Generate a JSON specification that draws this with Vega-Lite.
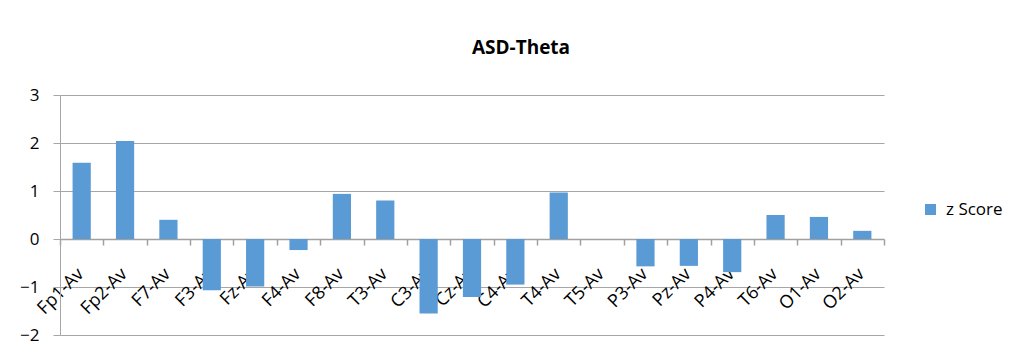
{
  "$schema": "https://vega.github.io/schema/vega-lite/v6.json",
  "autosize": {"type": "none"},
  "width": 824,
  "height": 240,
  "padding": {"left": 60, "top": 95, "right": 140, "bottom": 25},
  "background": "white",
  "title": {
    "text": "ASD-Theta",
    "font": "Open Sans",
    "fontSize": 19,
    "fontWeight": "bold",
    "color": "#000000",
    "anchor": "middle",
    "frame": "group",
    "dx": 49,
    "offset": 28
  },
  "data": {
    "values": [
      {"channel": "Fp1-Av", "z": 1.59},
      {"channel": "Fp2-Av", "z": 2.04},
      {"channel": "F7-Av", "z": 0.40},
      {"channel": "F3-Av", "z": -1.07},
      {"channel": "Fz-Av", "z": -0.99},
      {"channel": "F4-Av", "z": -0.23},
      {"channel": "F8-Av", "z": 0.94},
      {"channel": "T3-Av", "z": 0.80},
      {"channel": "C3-Av", "z": -1.55},
      {"channel": "Cz-Av", "z": -1.21},
      {"channel": "C4-Av", "z": -0.95},
      {"channel": "T4-Av", "z": 0.97},
      {"channel": "T5-Av", "z": 0},
      {"channel": "P3-Av", "z": -0.57},
      {"channel": "Pz-Av", "z": -0.56},
      {"channel": "P4-Av", "z": -0.69},
      {"channel": "T6-Av", "z": 0.50},
      {"channel": "O1-Av", "z": 0.46},
      {"channel": "O2-Av", "z": 0.17}
    ]
  },
  "mark": {"type": "bar", "width": {"band": 0.42}},
  "encoding": {
    "x": {
      "field": "channel",
      "type": "nominal",
      "sort": null,
      "scale": {"paddingInner": 0, "paddingOuter": 0},
      "axis": {
        "title": null,
        "offset": -96,
        "domain": true,
        "domainColor": "#a0a0a0",
        "domainWidth": 1.5,
        "ticks": true,
        "tickColor": "#a0a0a0",
        "tickWidth": 1.5,
        "tickSize": 6,
        "tickBand": "extent",
        "labelAngle": -45,
        "labelAlign": "right",
        "labelBaseline": "middle",
        "labelPadding": 26,
        "labelOffset": -1,
        "labelFont": "Open Sans",
        "labelFontSize": 18,
        "labelColor": "#000000",
        "zindex": 0
      }
    },
    "y": {
      "field": "z",
      "type": "quantitative",
      "scale": {"domain": [-2, 3], "nice": false, "zero": false},
      "axis": {
        "title": null,
        "values": [-2, -1, 0, 1, 2, 3],
        "grid": true,
        "gridColor": "#a6a6a6",
        "domainColor": "#a6a6a6",
        "tickColor": "#a6a6a6",
        "tickSize": 7,
        "labelPadding": 14,
        "labelFont": "Open Sans",
        "labelFontSize": 17,
        "labelColor": "#000000",
        "zindex": 0
      }
    },
    "color": {
      "datum": "z Score",
      "scale": {"range": ["#5B9BD5"]},
      "legend": {
        "title": null,
        "orient": "none",
        "legendX": 862,
        "legendY": 106,
        "padding": 0,
        "symbolType": "square",
        "symbolSize": 121,
        "symbolStrokeWidth": 0,
        "labelFont": "Open Sans",
        "labelFontSize": 17,
        "labelColor": "#000000",
        "labelOffset": 7
      }
    }
  },
  "config": {"view": {"stroke": null}}
}
